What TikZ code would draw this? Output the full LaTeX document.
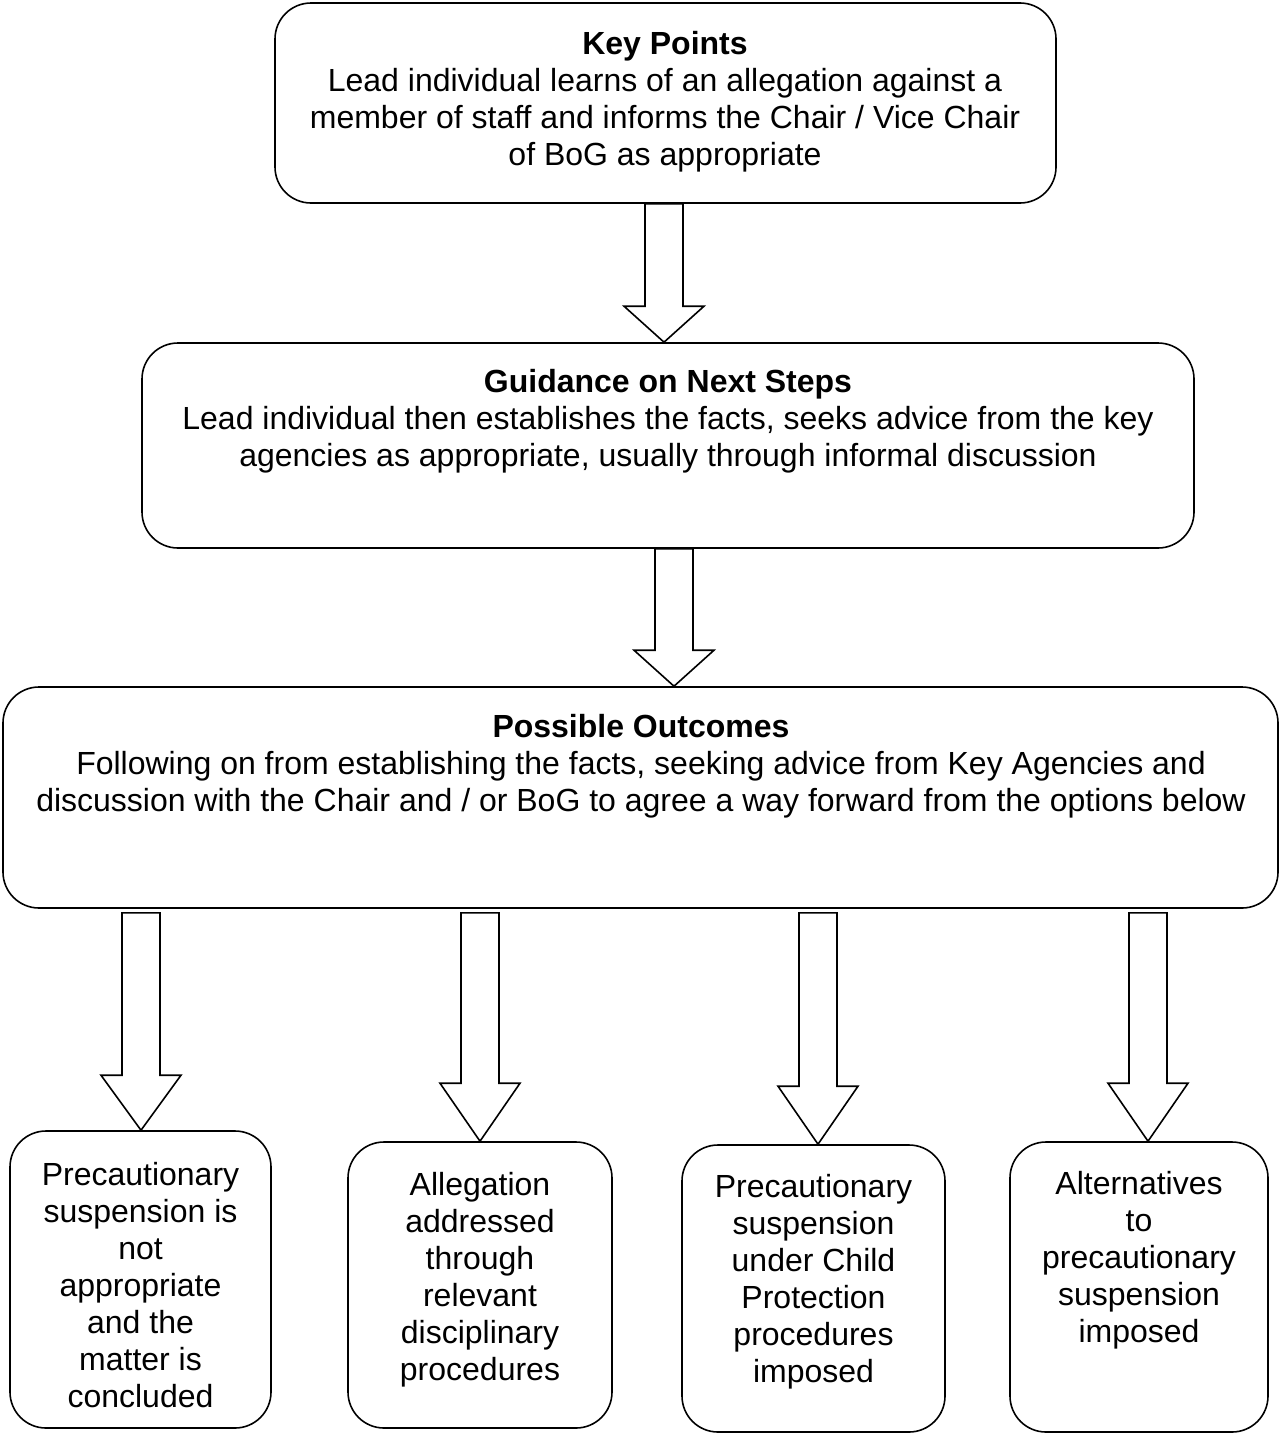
\documentclass[tikz,border=0pt]{standalone}
\usepackage{fontspec}
\setmainfont{Liberation Sans}
\usetikzlibrary{calc}
\tikzset{
  box/.style={draw, line width=1.6pt, rounded corners=36pt, fill=white, inner sep=0pt},
  txt/.style={anchor=north, inner sep=0pt, align=center, font=\fontsize{32}{37}\selectfont},
  blockarrow/.style={draw, line width=1.6pt, fill=white, line join=miter}
}
% #1 from node, #2 to node, #3 x centre, #4 head length, #5 gap at start
\newcommand{\barrow}[5]{%
  \draw[blockarrow] let \p1=(#1.south), \p2=(#2.north) in
    ({#3pt-19pt},{\y1-#5pt}) -- ({#3pt-19pt},{\y2+#4pt}) -- ({#3pt-40pt},{\y2+#4pt})
    -- (#3pt,\y2) -- ({#3pt+40pt},{\y2+#4pt}) -- ({#3pt+19pt},{\y2+#4pt})
    -- ({#3pt+19pt},{\y1-#5pt}) -- cycle;}
\begin{document}
\begin{tikzpicture}[x=1pt,y=-1pt]
\useasboundingbox[fill=white] (0,0) rectangle (1280,1435);

\node[box, minimum width=781pt, minimum height=200pt] (b1) at (665.5,103) {};
\node[box, minimum width=1052pt, minimum height=205pt] (b2) at (668,445.5) {};
\node[box, minimum width=1275pt, minimum height=221pt] (b3) at (640.5,797.5) {};
\node[box, minimum width=261pt, minimum height=297pt] (b4) at (140.5,1279.5) {};
\node[box, minimum width=264pt, minimum height=286pt] (b5) at (480,1285) {};
\node[box, minimum width=263pt, minimum height=287pt] (b6) at (813.5,1288.5) {};
\node[box, minimum width=258pt, minimum height=290pt] (b7) at (1139,1287) {};

\node[txt] (t1) at (665,31) {\textbf{Key Points}\\Lead individual learns of an allegation against a\\member of staff and informs the Chair / Vice Chair\\of BoG as appropriate};
\node[txt] (t2) at (668,369) {\textbf{Guidance on Next Steps}\\Lead individual then establishes the facts, seeks advice from the key\\agencies as appropriate, usually through informal discussion};
\node[txt] (t3) at (641,714) {\textbf{Possible Outcomes}\\Following on from establishing the facts, seeking advice from Key Agencies and\\discussion with the Chair and / or BoG to agree a way forward from the options below};
\node[txt] (t4) at (140.5,1162) {Precautionary\\suspension is\\not\\appropriate\\and the\\matter is\\concluded};
\node[txt] (t5) at (480,1172) {Allegation\\addressed\\through\\relevant\\disciplinary\\procedures};
\node[txt] (t6) at (813.5,1174) {Precautionary\\suspension\\under Child\\Protection\\procedures\\imposed};
\node[txt] (t7) at (1139,1171) {Alternatives\\to\\precautionary\\suspension\\imposed};

\barrow{b1}{b2}{664}{36}{0}
\barrow{b2}{b3}{674}{36}{0}
\barrow{b3}{b4}{141}{55}{4}
\barrow{b3}{b5}{480}{58}{4}
\barrow{b3}{b6}{818}{58}{4}
\barrow{b3}{b7}{1148}{58}{4}
\end{tikzpicture}
\end{document}
